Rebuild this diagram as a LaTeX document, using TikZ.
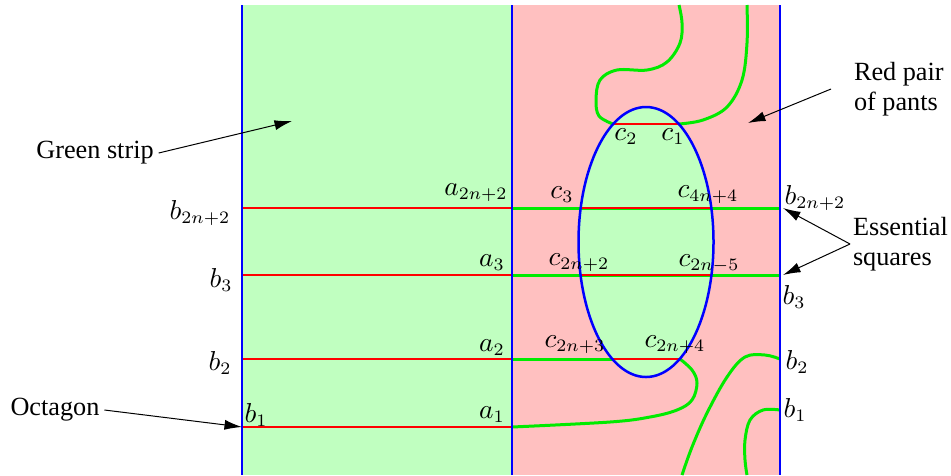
\documentclass[tikz,border=0pt]{standalone}
\usepackage{fontspec}
\setmainfont{Liberation Serif}
\usetikzlibrary{arrows.meta}
\definecolor{stripgreen}{RGB}{192,255,192}
\definecolor{pantsred}{RGB}{255,192,192}
\definecolor{cutgreen}{RGB}{0,235,0}
\tikzset{
  bnd/.style={blue,line width=1pt},
  redarc/.style={red,line width=1.1pt},
  cut/.style={cutgreen,line width=1.2pt},
  lbl/.style={inner sep=1pt},
  pointer/.style={black,line width=0.4pt,-{Latex[length=7pt,width=4pt]}}
}
\begin{document}
\begin{tikzpicture}[x=0.4pt,y=-0.4pt,font=\fontsize{10.5}{12}\selectfont]
  \useasboundingbox (0,0) rectangle (951,475);
  % strips
  \fill[stripgreen] (242,5) rectangle (512,475);
  \fill[pantsred] (512,5) rectangle (780,475);
  \fill[stripgreen] (646,242) ellipse [x radius=67.5, y radius=135];
  % boundary points
  \coordinate (b1) at (242,427);
  \coordinate (b2) at (242,359);
  \coordinate (b3) at (242,275);
  \coordinate (bt) at (242,208);
  \coordinate (a1) at (512,427);
  \coordinate (a2) at (512,359);
  \coordinate (a3) at (512,275);
  \coordinate (at) at (512,208);
  \coordinate (r1) at (780,410);
  \coordinate (r2) at (780,359);
  \coordinate (r3) at (780,275);
  \coordinate (rt) at (780,208);
  \coordinate (c1) at (679,124);
  \coordinate (c2) at (613,124);
  \coordinate (c23) at (612,359);
  \coordinate (c24) at (680,359);
  % green arcs in the pants
  \draw[cut] (at) -- (rt);
  \draw[cut] (a3) -- (r3);
  \draw[cut] (a2) -- (c23);
  \draw[cut] plot[smooth,tension=0.6] coordinates {(c24) (692,370) (697,383) (692,400) (677,410) (650,417) (610,422) (a1)};
  \draw[cut] plot[smooth,tension=0.6] coordinates {(c2) (599,116) (596,100) (600,80) (617,70) (647,70) (667,62) (680,43) (682,23) (679,5)};
  \draw[cut] plot[smooth,tension=0.6] coordinates {(c1) (703,120) (727,107) (742,80) (747,43) (747,5)};
  \draw[cut] plot[smooth,tension=0.6] coordinates {(r2) (765,355) (745,357) (727,377) (707,413) (692,447) (682,475)};
  \draw[cut] plot[smooth,tension=0.6] coordinates {(r1) (763,410) (750,420) (745,440) (745,460) (747,475)};
  % red arcs
  \foreach \p/\q in {b1/a1,b2/a2,b3/a3,bt/at} {
    \draw[redarc] (\p) -- (\q);
  }
  \begin{scope}
    \clip (646,242) ellipse [x radius=67.5, y radius=135];
    \foreach \y in {124,208,275,359} {
      \draw[redarc] (560,\y) -- (740,\y);
    }
  \end{scope}
  \draw[bnd] (646,242) ellipse [x radius=67.5, y radius=135];
  \foreach \x in {242,512,780} {
    \draw[bnd] (\x,5) -- (\x,475);
  }
  % labels
  \foreach \name/\pos/\txt in {lb1/{256,415}/b_1, lb2/{220,363}/b_2, lb3/{221,280}/b_3, lbt/{200,213}/b_{2n+2},
      la1/{492,415}/a_1, la2/{492,348}/a_2, la3/{492,263}/a_3, lat/{476,193}/a_{2n+2},
      lc1/{673,137}/c_1, lc2/{626,137}/c_2, lc3/{562,195}/c_3, lc4/{708,195}/c_{4n+4},
      lc5/{579,263}/c_{2n+2}, lc6/{709,264}/c_{2n-5}, lc7/{575,345}/c_{2n+3}, lc8/{675,345}/c_{2n+4},
      lr1/{795,410}/b_1, lr2/{797,362}/b_2, lr3/{794,297}/b_3, lrt/{815,198}/b_{2n+2}} {
    \node[lbl] (\name) at (\pos) {$\txt$};
  }
  % annotations
  \node[lbl] (green) at (95,153) {Green strip};
  \node[lbl] (octa) at (55,410) {Octagon};
  \node[lbl,anchor=west,align=left] (pants) at (851,89) {Red pair\\of pants};
  \node[lbl,anchor=west,align=left] (ess) at (850,244) {Essential\\squares};
  \coordinate (gtip) at (292,121);
  \coordinate (ptip) at (748,123);
  \coordinate (etop) at (783,208);
  \coordinate (ebot) at (783,275);
  \draw[pointer] (green.east) ++(2,0) -- (gtip);
  \draw[pointer] (octa.east) ++(2,0) -- (b1);
  \draw[pointer] (pants.west) ++(-20,0) -- (ptip);
  \draw[pointer] (ess.west) -- (etop);
  \draw[pointer] (ess.west) -- (ebot);
\end{tikzpicture}
\end{document}
